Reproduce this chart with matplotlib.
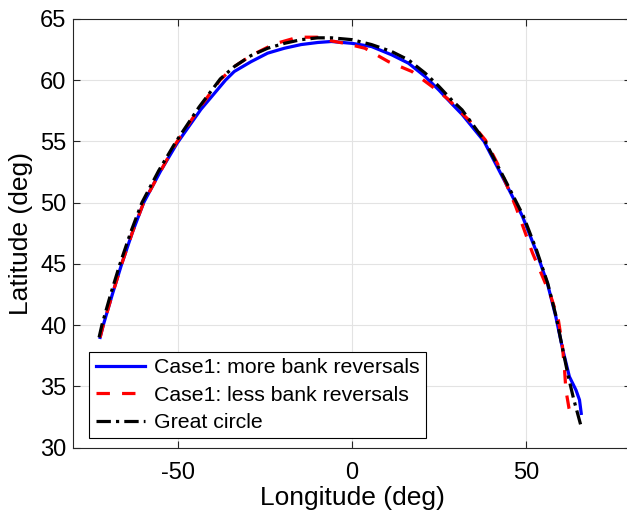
import matplotlib.pyplot as plt

plt.rcParams['font.family'] = ['Liberation Sans', 'DejaVu Sans']
plt.rcParams['axes.unicode_minus'] = False

# Case1: more bank reversals
lon_more = [-72.3, -71.4, -68.7, -66.1, -63.0, -59.8, -55.0, -50.2, -43.4, -36.3,
            -33.8, -29.0, -24.2, -19.4, -14.6, -9.8, -5.9, 0.0, 5.6, 11.4,
            16.2, 21.0, 24.9, 28.7, 31.6, 37.9, 44.1, 48.9, 52.8, 56.1,
            58.5, 60.5, 62.4, 64.3, 65.3, 65.8]
lat_more = [39.0, 40.0, 42.6, 45.0, 47.6, 50.0, 52.55, 54.85, 57.6, 60.0,
            60.7, 61.5, 62.2, 62.6, 62.9, 63.07, 63.15, 63.0, 62.74, 62.06,
            61.38, 60.29, 59.2, 58.05, 57.2, 55.0, 51.6, 48.9, 46.1, 43.4,
            40.7, 38.0, 35.8, 34.7, 33.9, 32.8]

# Case1: less bank reversals
lon_less = [-72.3, -71.4, -68.7, -66.1, -63.0, -59.8, -55.0, -50.4, -43.6, -37.9,
            -33.8, -29.0, -22.3, -15.5, -10.0, -5.9, -2.1, 3.7, 10.5, 17.2,
            23.0, 27.8, 31.1, 33.5, 38.3, 42.2, 47.0, 49.4, 51.8, 54.7,
            57.1, 59.2, 60.4, 61.0, 61.4, 62.3, 63.2]
lat_less = [39.0, 40.0, 42.6, 45.0, 47.6, 50.0, 52.55, 54.9, 57.8, 60.0,
            61.1, 62.0, 62.95, 63.5, 63.5, 63.2, 63.0, 62.6, 61.5, 60.7,
            59.47, 58.4, 57.4, 56.76, 55.1, 52.94, 49.68, 47.8, 45.9, 43.96,
            42.33, 40.5, 38.3, 36.4, 34.7, 33.2, 32.3]

# Great circle
lon_gc = [-72.6, -71.8, -69.2, -66.6, -63.5, -60.3, -55.5, -50.7, -43.9, -37.8,
          -33.8, -29.0, -24.2, -19.4, -14.6, -9.8, -5.9, 0.0, 5.6, 11.4,
          16.2, 21.0, 24.9, 28.7, 31.6, 38.2, 44.4, 49.2, 53.0, 56.2,
          58.6, 60.5, 62.1, 63.6, 65.8]
lat_gc = [39.0, 40.0, 42.6, 45.0, 47.6, 50.0, 52.6, 54.9, 57.8, 60.1,
          61.1, 62.0, 62.6, 63.0, 63.3, 63.45, 63.45, 63.3, 62.9, 62.33,
          61.65, 60.57, 59.5, 58.35, 57.57, 55.0, 51.6, 48.9, 46.1, 43.4,
          40.7, 38.0, 35.8, 34.0, 31.7]

fig = plt.figure(figsize=(6.27, 5.13), dpi=100)
ax = fig.add_axes([0.1169, 0.1273, 0.889, 0.836])

ax.plot(lon_more, lat_more, color='#0000ff', lw=2.3, label='Case1: more bank reversals')
ax.plot(lon_less, lat_less, color='#ff0000', lw=2.3, dashes=(4.2, 3.8),
        label='Case1: less bank reversals')
ax.plot(lon_gc, lat_gc, color='black', lw=2.3, dashes=(4.5, 1.6, 1.0, 1.6),
        label='Great circle')

ax.set_xlim(-80, 80)
ax.set_ylim(30, 65)
ax.set_xticks([-50, 0, 50])
ax.set_yticks([30, 35, 40, 45, 50, 55, 60, 65])
ax.grid(True, color='#e3e3e3', lw=0.8)
ax.set_axisbelow(True)
ax.tick_params(direction='in', length=5, width=0.8, labelsize=17, colors='#262626',
               labelcolor='black', top=True, right=True)
ax.tick_params(axis='x', pad=10)
ax.tick_params(axis='y', pad=5)
for s in ax.spines.values():
    s.set_color('#262626')
    s.set_linewidth(0.8)

ax.set_xlabel('Longitude (deg)', fontsize=19, labelpad=2)
ax.set_ylabel('Latitude (deg)', fontsize=19, labelpad=5)

leg = ax.legend(loc='upper left', bbox_to_anchor=(0.0289, 0.224), borderaxespad=0,
                fontsize=15.3, fancybox=False, framealpha=1, edgecolor='black',
                handlelength=2.3, handletextpad=0.45, labelspacing=0.4,
                borderpad=0.3)
leg.get_frame().set_linewidth(0.8)

plt.savefig('out.png', dpi=100)
